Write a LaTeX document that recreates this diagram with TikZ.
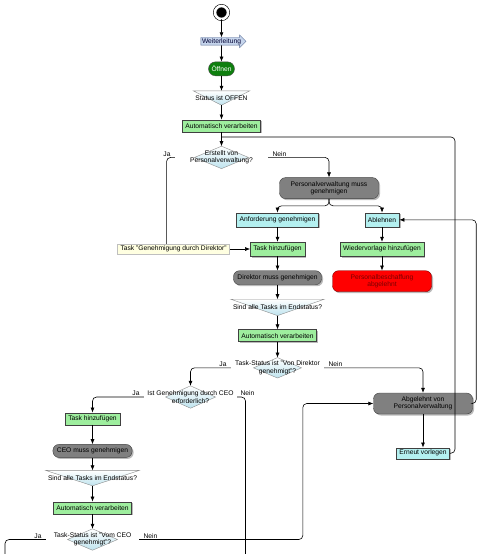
\documentclass[tikz,border=0pt]{standalone}
\usepackage{fontspec}
\setmainfont{Liberation Sans}
\usepackage{tikz}
\usetikzlibrary{shadows,arrows.meta,shapes.arrows,calc}
\pgfdeclarelayer{background}
\pgfsetlayers{background,main}
\definecolor{wlblau}{HTML}{C6D5EC}
\definecolor{wlrand}{HTML}{5A6E96}
\definecolor{dgruen}{HTML}{0E7F0E}
\definecolor{hgruen}{HTML}{9EEE9E}
\definecolor{hcyan}{HTML}{B4F0F0}
\definecolor{grau}{HTML}{808080}
\definecolor{notiz}{HTML}{FFFFE1}
\definecolor{rauteblau}{HTML}{BEE3EE}
\definecolor{dunkelrot}{HTML}{7A0000}
\tikzstyle{schatten}=[drop shadow={shadow xshift=1.5pt, shadow yshift=-1.5pt,
  fill=black!45, opacity=0.6}]
\tikzstyle{start}=[circle, draw, fill=black, double=white, double distance=2.6pt,
  line width=0.6pt, minimum size=13pt, inner sep=0pt]
\tikzstyle{weiter}=[single arrow, single arrow head extend=2.5pt, draw=wlrand, fill=wlblau,
  text=black!80!blue, inner xsep=1pt, inner ysep=0.5pt]
\tikzstyle{offen}=[draw=black!70, fill=dgruen, text=white, rounded corners=7pt,
  minimum height=14pt, inner xsep=3pt, inner ysep=0.5pt]
\tikzstyle{aktion}=[draw=black!75, fill=hgruen, minimum height=12pt, inner xsep=3pt,
  inner ysep=1pt, schatten]
\tikzstyle{wahl}=[aktion, fill=hcyan, minimum height=14pt]
\tikzstyle{warten}=[draw=black!75, fill=grau, rounded corners=6pt, minimum height=14pt,
  inner xsep=4pt, inner ysep=1pt, align=center, schatten]
\tikzstyle{warten2}=[warten, minimum width=99pt, minimum height=21pt]
\tikzstyle{ende}=[warten2, fill=red, draw=red!50!black, text=dunkelrot]
\tikzstyle{hinweis}=[draw=black!25, fill=notiz, minimum height=10pt, inner xsep=3pt,
  inner ysep=1pt]
\tikzstyle{frage}=[inner sep=0pt, minimum width=93pt, align=center]
\tikzstyle{bedingung}=[inner xsep=2pt, inner ysep=0pt, align=center]
\tikzstyle{line}=[draw, line width=0.6pt, rounded corners=4pt,
  -{Latex[length=5pt,width=4pt]}]
\tikzstyle{joint}=[draw, line width=0.6pt, rounded corners=4pt]
\tikzstyle{texto}=[inner sep=1pt]
\newcommand{\knoten}[3]{node (p#1)[#2]{#3}}
\newcommand{\raute}[2]{%
\begin{pgfonlayer}{background} % diamond behind the question text
\path[draw=black!45, top color=white, bottom color=rauteblau]
  (#1.north) -- ($(#1.center)+(#2,0)$) -- (#1.south) -- ($(#1.center)-(#2,0)$) -- cycle;
\end{pgfonlayer}}
\newcommand{\trichter}[1]{%
\begin{pgfonlayer}{background} % funnel behind the condition text
\path[draw=black!45, top color=white, bottom color=rauteblau]
  (#1.north west) -- (#1.north east) -- (#1.south) -- cycle;
\end{pgfonlayer}}
\begin{document}
\begin{tikzpicture}[x=1pt, y=-1pt, every node/.style={font=\fontsize{6.7}{7.2}\selectfont}]
  \useasboundingbox (0,0) rectangle (480,554);

  % Draw diagram elements

  \path (221.5,12.5) \knoten{1}{start}{};
  \path (p1.south)+(0,22) \knoten{2}{weiter}{Weiterleitung};
  \path (p2.south)+(0,23.5) \knoten{3}{offen}{Öffnen};
  \path (p3.south)+(0,22) \knoten{4}{bedingung, minimum height=14pt}{Status ist OFFEN};
  \path (p4.south)+(0,20.5) \knoten{5}{aktion}{Automatisch verarbeiten};
  \path (p5.south)+(0,25.5) \knoten{6}{frage, minimum height=22pt}{Erstellt von\\Personalverwaltung?};

  \path (p6.south)+(107.5,19.5) \knoten{7}{warten2}{Personalverwaltung muss\\genehmigen};
  \path (p7.south)+(-51.5,21) \knoten{8}{wahl}{Anforderung genehmigen};
  \path (p7.south)+(53,21) \knoten{9}{wahl}{Ablehnen};
  \path (p8.south)+(0,22) \knoten{10}{aktion, minimum height=14pt}{Task hinzufügen};
  \path (p10.west)+(-76.5,0) \knoten{11}{hinweis}{Task "Genehmigung durch Direktor"};
  \path (p9.south)+(0,22) \knoten{12}{aktion, minimum height=14pt}{Wiedervorlage hinzufügen};
  \path (p12.south)+(0,25) \knoten{13}{ende}{Personalbeschaffung\\abgelehnt};

  \path (p10.south)+(0,21.5) \knoten{14}{warten}{Direktor muss genehmigen};
  \path (p14.south)+(0,22.5) \knoten{15}{bedingung, minimum height=16pt}{Sind alle Tasks im Endstatus?};
  \path (p15.south)+(0,20) \knoten{16}{aktion}{Automatisch verarbeiten};
  \path (p16.south)+(0,26) \knoten{17}{frage, minimum height=20pt}{Task-Status ist "Von Direktor\\genehmigt"?};

  \path (p17.south)+(-87,19) \knoten{18}{frage, minimum height=22pt}{Ist Genehmigung durch CEO\\erforderlich?};
  \path (p18.south)+(-98,10.5) \knoten{19}{aktion}{Task hinzufügen};
  \path (p19.south)+(0,26) \knoten{20}{warten, minimum height=13pt}{CEO muss genehmigen};
  \path (p20.south)+(0,20.5) \knoten{21}{bedingung, minimum height=15pt}{Sind alle Tasks im Endstatus?};
  \path (p21.south)+(0,22) \knoten{22}{aktion}{Automatisch verarbeiten};
  \path (p22.south)+(0,25.5) \knoten{23}{frage, minimum height=21pt}{Task-Status ist "Vom CEO\\genehmigt"?};

  \path (p17.south)+(145.5,25.5) \knoten{24}{warten2}{Abgelehnt von\\Personalverwaltung};
  \path (p24.south)+(0,39) \knoten{25}{wahl, minimum height=11pt}{Erneut vorlegen};

  \raute{p6}{27}
  \raute{p17}{24}
  \raute{p18}{25}
  \raute{p23}{25}
  \trichter{p4}
  \trichter{p15}
  \trichter{p21}

  \coordinate (k1) at (455,137);
  \coordinate (k2) at (245.5,554);
  \coordinate (k3) at (5,554);
  \coordinate (k4) at ($(p24.west)+(-70.5,0)$);

  % Draw arrows between elements

  \path [line] (p1) -- (p2);
  \path [line] (p2) -- (p3);
  \path [line] (p3) -- (p4);
  \path [line] (p4) -- (p5);
  \path [line] (p5) -- (p6);
  \path [joint] (p25.east) -| (k1) -- (k1 -| p5.south);

  \path [joint] (p6.west) node[texto, above left, xshift=-3pt] {Ja} -| ([xshift=-7pt]p11.north);
  \path [line] (p6.east) node[texto, above right, xshift=3pt] {Nein} -| (p7.north);
  \path [line] (p7.south) -- ++(0,7) -| (p8.north);
  \path [line] (p7.south) -- ++(0,7) -| (p9.north);
  \path [line] (p8) -- (p10);
  \path [line] (p11) -- (p10);
  \path [line] (p9) -- (p12);
  \path [line] (p12) -- (p13);
  \path [line] (p10) -- (p14);
  \path [line] (p14) -- (p15);
  \path [line] (p15) -- (p16);
  \path [line] (p16) -- (p17);

  \path [line] (p17.west) node[texto, above left, xshift=-3pt] {Ja} -| (p18.north);
  \path [line] (p17.east) node[texto, above right, xshift=3pt] {Nein} -| (p24.north);
  \path [line] (p18.west) node[texto, above left, xshift=-3pt] {Ja} -| (p19.north);
  \path [joint] (p18.east) node[texto, above right, xshift=2pt] {Nein} -| (k2);
  \path [line] (p19) -- (p20);
  \path [line] (p20) -- (p21);
  \path [line] (p21) -- (p22);
  \path [line] (p22) -- (p23);
  \path [joint] (p23.west) node[texto, above left, xshift=-3pt] {Ja} -| (k3);
  \path [line] (p23.east) node[texto, above right, xshift=3pt] {Nein} -| (k4) -- (p24.west);

  \path [line] (p24) -- (p25);
  \path [line] (p24.east) -- ++(3.5,0) |- (p9.east);

\end{tikzpicture}
\end{document}
